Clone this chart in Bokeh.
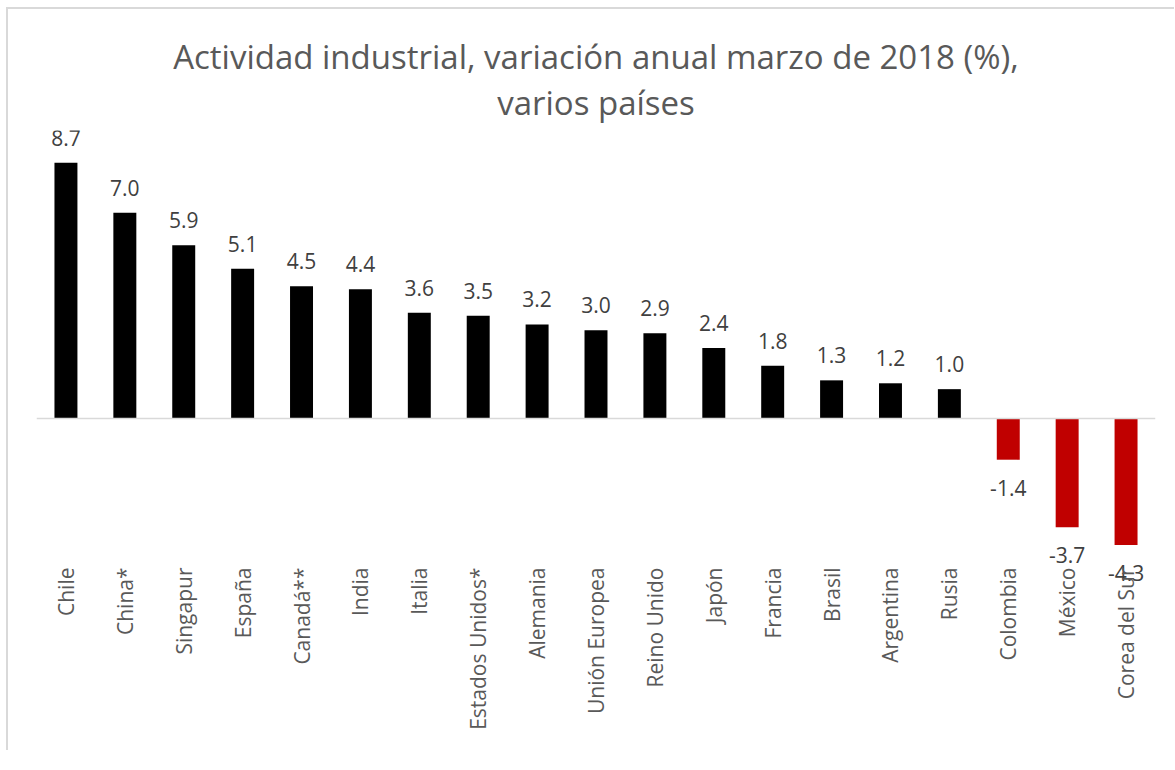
from math import pi
from bokeh.plotting import figure
from bokeh.models import ColumnDataSource, FactorRange, Range1d, Span, Title
from bokeh.core.properties import value
from bokeh.embed import file_html
from bokeh.resources import INLINE

countries = ["Chile", "China*", "Singapur", "España", "Canadá**", "India", "Italia",
             "Estados Unidos*", "Alemania", "Unión Europea", "Reino Unido", "Japón",
             "Francia", "Brasil", "Argentina", "Rusia", "Colombia", "México", "Corea del Sur"]
values = [8.7, 7.0, 5.9, 5.1, 4.5, 4.4, 3.6, 3.5, 3.2, 3.0, 2.9, 2.4, 1.8, 1.3, 1.2, 1.0,
          -1.4, -3.7, -4.3]
labels = [f"{v:.1f}" for v in values]
title_lines = ["Actividad industrial, variación anual marzo de 2018 (%),", "varios países"]

POS_COLOR = "#000000"
NEG_COLOR = "#C00000"
colors = [POS_COLOR if v >= 0 else NEG_COLOR for v in values]
offsets = [-25 if v >= 0 else 28 for v in values]

src = ColumnDataSource(dict(x=countries, top=values, color=colors, label=labels, off=offsets))

FONT = "Open Sans"

p = figure(x_range=FactorRange(factors=countries, range_padding=0),
           y_range=Range1d(-6.19, 9.80),
           frame_width=1119, frame_height=470,
           min_border_left=28, min_border_right=19, min_border_top=121, min_border_bottom=150,
           output_backend="svg", toolbar_location=None, tools="")
p.styles = {"border-left": "2px solid #d9d9d9", "border-top": "2px solid #d9d9d9",
            "margin-left": "6px", "margin-top": "7px"}

p.vbar(x="x", top="top", bottom=0, width=0.39, fill_color="color", line_color=None, source=src)
p.text(x="x", y="top", text="label", y_offset="off", text_align="center",
       text_baseline="middle", text_font=value(FONT), text_font_size="21px",
       text_color="#404040", source=src)

p.add_layout(Span(location=0, dimension="width", line_color="#d9d9d9", line_width=1.5))

p.add_layout(Title(text=title_lines[1], align="center", text_font=FONT,
                   text_font_size="33px", text_font_style="normal", text_color="#595959",
                   standoff=12), "above")
p.add_layout(Title(text=title_lines[0], align="center", text_font=FONT,
                   text_font_size="33px", text_font_style="normal", text_color="#595959",
                   standoff=-15), "above")

p.yaxis.visible = False
p.xgrid.visible = False
p.ygrid.visible = False
p.outline_line_color = None

xa = p.xaxis[0]
xa.axis_line_color = None
xa.major_tick_line_color = None
xa.minor_tick_line_color = None
xa.major_label_orientation = pi / 2
xa.major_label_standoff = -39
xa.major_label_text_font = FONT
xa.major_label_text_font_size = "21px"
xa.major_label_text_color = "#595959"

open("out.html", "w").write(file_html(p, INLINE))
